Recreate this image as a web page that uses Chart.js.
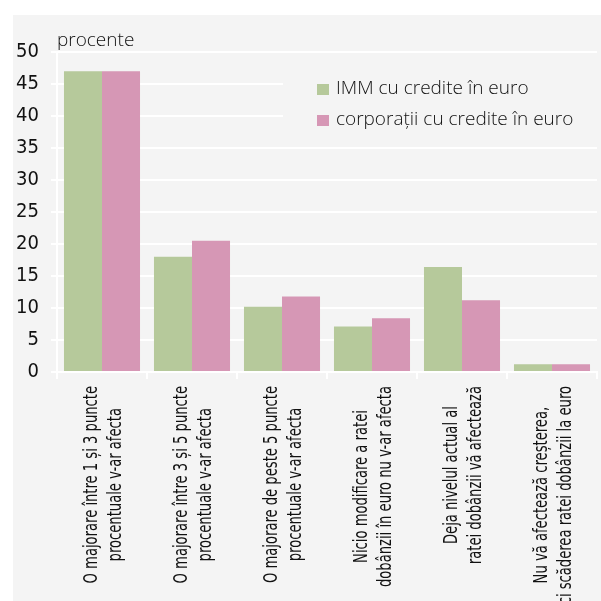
<!DOCTYPE html>
<html>
<head>
<meta charset="utf-8">
<script src="https://cdn.jsdelivr.net/npm/chart.js@4.4.1/dist/chart.umd.min.js"></script>
<style>
  html, body { margin: 0; padding: 0; background: #ffffff; }
  #c { display: block; }
</style>
</head>
<body>
<canvas id="c" width="601" height="601"></canvas>
<script>
// Survey answers (two-line category labels)
const categories = [
  ["O majorare între 1 și 3 puncte", "procentuale v-ar afecta"],
  ["O majorare între 3 și 5 puncte", "procentuale v-ar afecta"],
  ["O majorare de peste 5 puncte", "procentuale v-ar afecta"],
  ["Nicio modificare a ratei", "dobânzii în euro nu v-ar afecta"],
  ["Deja nivelul actual al", "ratei dobânzii vă afectează"],
  ["Nu vă afectează creșterea,", "ci scăderea ratei dobânzii la euro"]
];
const seriesNames = ["IMM cu credite în euro", "corporații cu credite în euro"];
const immValues = [47, 18, 10.2, 7.1, 16.4, 1.2];
const corpValues = [47, 20.5, 11.8, 8.4, 11.2, 1.2];
const yMin = 0;
const yMax = 50;
const yStep = 5;
const unitLabel = "procente";

const GREEN = '#b6c99b';
const PINK = '#d697b5';
const PANEL = '#f4f4f4';
const NARROW = "'Liberation Sans Narrow', 'DejaVu Sans Condensed', 'Roboto Condensed', 'Liberation Sans', sans-serif";
const LIGHT = "'Open Sans', 'Noto Sans', sans-serif";

// Grey panel behind the whole figure
const backdrop = {
  id: 'backdrop',
  beforeDraw(chart) {
    const ctx = chart.ctx;
    ctx.save();
    ctx.fillStyle = '#ffffff';
    ctx.fillRect(0, 0, chart.width, chart.height);
    ctx.fillStyle = PANEL;
    ctx.fillRect(13, 15, chart.width - 13, chart.height - 15);
    ctx.restore();
  }
};

// Unit caption, inset legend and vertical category labels
const decorations = {
  id: 'decorations',
  afterDraw(chart) {
    const ctx = chart.ctx;
    const area = chart.chartArea;
    const xs = chart.scales.x;
    ctx.save();

    // unit caption
    ctx.fillStyle = '#111';
    ctx.font = "300 19px " + LIGHT;
    ctx.textAlign = 'left';
    ctx.textBaseline = 'alphabetic';
    ctx.fillText(unitLabel, area.left, 46);

    // legend box, covering the grid lines behind it
    ctx.fillStyle = PANEL;
    ctx.fillRect(283, 62, area.right - 283 + 2, 76);
    chart.data.datasets.forEach((ds, i) => {
      const y = 89 + i * 31;
      ctx.fillStyle = ds.backgroundColor;
      ctx.fillRect(317, y - 5, 12, 11);
      ctx.fillStyle = '#111';
      ctx.font = "300 19px " + LIGHT;
      ctx.textBaseline = 'middle';
      ctx.fillText(ds.label, 336, y);
    });

    // category labels, rotated, lines centred on one another
    const squeeze = 0.73;
    const lineH = 24;
    ctx.font = "20px " + NARROW;
    ctx.fillStyle = '#111';
    ctx.textAlign = 'center';
    ctx.textBaseline = 'middle';
    chart.data.labels.forEach((lines, i) => {
      const cx = xs.getPixelForValue(i) + 2;
      const maxW = Math.max(...lines.map(t => ctx.measureText(t).width)) * squeeze;
      ctx.save();
      ctx.translate(cx, area.bottom + 14);
      ctx.rotate(-Math.PI / 2);
      ctx.scale(squeeze, 1);
      lines.forEach((t, j) => {
        const off = (j - (lines.length - 1) / 2) * lineH;
        ctx.fillText(t, (-maxW / 2) / squeeze, off);
      });
      ctx.restore();
    });
    ctx.restore();
  }
};

new Chart(document.getElementById('c'), {
  type: 'bar',
  data: {
    labels: categories,
    datasets: [
      { label: seriesNames[0], data: immValues, backgroundColor: GREEN },
      { label: seriesNames[1], data: corpValues, backgroundColor: PINK }
    ]
  },
  options: {
    responsive: false,
    animation: false,
    layout: { padding: { top: 52, right: 4, left: 0, bottom: 0 } },
    datasets: { bar: { categoryPercentage: 0.845, barPercentage: 1.0, borderWidth: 0 } },
    plugins: { legend: { display: false }, tooltip: { enabled: false }, title: { display: false } },
    scales: {
      x: {
        grid: { display: true, drawOnChartArea: false, offset: true, color: '#ffffff', lineWidth: 2, tickLength: 7 },
        border: { display: true, color: '#ffffff', width: 2 },
        ticks: { display: false },
        afterFit(scale) { scale.height = 229; }
      },
      y: {
        min: yMin,
        max: yMax,
        ticks: { stepSize: yStep, color: '#111', padding: 12, font: { family: NARROW, size: 20 } },
        grid: { color: '#ffffff', lineWidth: 2, tickLength: 6 },
        border: { display: true, color: '#ffffff', width: 2 },
        afterFit(scale) { scale.width = 57; }
      }
    }
  },
  plugins: [backdrop, decorations]
});
</script>
</body>
</html>
